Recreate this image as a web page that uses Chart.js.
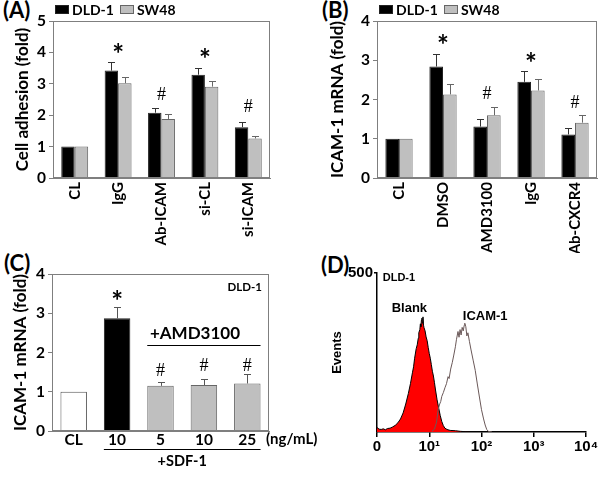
<!DOCTYPE html>
<html>
<head>
<meta charset="utf-8">
<script src="https://cdn.jsdelivr.net/npm/chart.js@4.4.1/dist/chart.umd.min.js"></script>
<style>
  body { margin: 0; background: #fff; width: 600px; height: 479px; overflow: hidden; position: relative; }
  canvas { position: absolute; left: 0; top: 0; }
  .tag { position: absolute; font: bold 22px/22px Lato, sans-serif; color: #000; }
</style>
</head>
<body>
<div class="tag" style="left:3px;top:-1px">(A)</div>
<div class="tag" style="left:322px;top:-1px">(B)</div>
<div class="tag" style="left:4px;top:252px">(C)</div>
<div class="tag" style="left:321px;top:254px">(D)</div>
<canvas id="cA" width="600" height="479"></canvas>
<canvas id="cB" width="600" height="479"></canvas>
<canvas id="cC" width="600" height="479"></canvas>
<canvas id="cD" width="600" height="479"></canvas>
<script>
// Four panels of a figure, each one Chart.js chart on its own stacked canvas.

const seriesNames = ['DLD-1', 'SW48'];

// (A) cell adhesion
const catsA = ['CL', 'IgG', 'Ab-ICAM', 'si-CL', 'si-ICAM'];
const dldA = [1, 3.42, 2.08, 3.29, 1.62];
const dldASd = [0, 0.28, 0.14, 0.21, 0.17];
const swA = [1, 3.02, 1.88, 2.91, 1.26];
const swASd = [0, 0.21, 0.17, 0.19, 0.09];
const marksA = ['', '*', '#', '*', '#'];
const marksAY = [null, 4.13, 2.67, 3.95, 2.29];

// (B) ICAM-1 mRNA
const catsB = ['CL', 'DMSO', 'AMD3100', 'IgG', 'Ab-CXCR4'];
const dldB = [1, 2.84, 1.31, 2.45, 1.11];
const dldBSd = [0, 0.32, 0.19, 0.28, 0.16];
const swB = [1, 2.13, 1.6, 2.23, 1.41];
const swBSd = [0, 0.26, 0.21, 0.29, 0.19];
const marksB = ['', '*', '#', '*', '#'];
const marksBY = [null, 3.53, 2.16, 3.07, 1.94];

// (C) SDF-1 dose, DLD-1 only
const catsC = ['CL', '10', '5', '10', '25'];
const valsC = [1, 2.87, 1.15, 1.17, 1.21];
const sdC = [0, 0.3, 0.09, 0.15, 0.23];
const marksC = ['', '*', '#', '#', '#'];
const marksCY = [null, 3.46, 1.55, 1.68, 1.68];

// (D) flow cytometry histograms, x in decades (0 = 10^0)
const decadeTicks = [0, 1, 2, 3, 4];
const decadeLabels = ['0', '10\u00b9', '10\u00b2', '10\u00b3', '10\u2074'];
const blankX = [0, 0.04, 0.08, 0.12, 0.16, 0.2, 0.25, 0.3, 0.35, 0.4, 0.45, 0.5, 0.55, 0.6, 0.64, 0.68, 0.7, 0.72, 0.75, 0.77, 0.79, 0.8, 0.82, 0.83, 0.84, 0.85, 0.86, 0.87, 0.88, 0.89, 0.9, 0.92, 0.94, 0.96, 0.98, 1.0, 1.02, 1.04, 1.06, 1.08, 1.1, 1.12, 1.15, 1.18, 1.21, 1.24, 1.27, 1.3, 1.34, 1.4, 1.5, 1.6, 1.7, 1.8];
const blankY = [14, 9, 8, 10, 7, 11, 12, 16, 21, 29, 41, 60, 88, 121, 152, 188, 205, 232, 262, 274, 295, 312, 322, 340, 331, 352, 358, 342, 362, 336, 328, 318, 299, 287, 266, 247, 232, 212, 191, 176, 155, 132, 101, 76, 52, 33, 20, 12, 8, 5, 4, 2, 1, 0];
const icamX = [1.05, 1.1, 1.14, 1.17, 1.2, 1.22, 1.24, 1.27, 1.3, 1.33, 1.36, 1.38, 1.41, 1.44, 1.47, 1.5, 1.52, 1.55, 1.57, 1.59, 1.61, 1.63, 1.65, 1.67, 1.68, 1.7, 1.72, 1.74, 1.77, 1.8, 1.84, 1.88, 1.92, 1.96, 2.0, 2.04, 2.07, 2.1, 2.13, 2.2];
const icamY = [2, 9, 31, 70, 88, 96, 112, 124, 139, 152, 174, 168, 198, 218, 242, 268, 290, 316, 298, 322, 305, 329, 318, 336, 342, 331, 302, 312, 284, 258, 226, 194, 151, 110, 70, 41, 22, 8, 2, 0];

const FONT = 'Lato, sans-serif';
const ARIAL = '"Liberation Sans", Arial, sans-serif';
const BLACK = '#000000';
const GREY = '#bfbfbf';
const EDGE = '#7f7f7f';

const frame = {
  id: 'frame',
  afterDraw(chart) {
    const { ctx, chartArea: a } = chart;
    ctx.save();
    ctx.strokeStyle = EDGE;
    ctx.lineWidth = 1;
    ctx.strokeRect(a.left + 0.5, a.top + 0.5, a.width - 1, a.height - 1);
    ctx.restore();
  }
};

const errorBars = {
  id: 'errorBars',
  afterDatasetsDraw(chart, args, opts) {
    const { ctx } = chart;
    const ys = chart.scales.y;
    ctx.save();
    ctx.lineWidth = 1;
    opts.sd.forEach((sds, d) => {
      const meta = chart.getDatasetMeta(d);
      ctx.strokeStyle = opts.colors[d];
      meta.data.forEach((bar, i) => {
        if (!sds[i]) return;
        const v = chart.data.datasets[d].data[i];
        const top = Math.round(ys.getPixelForValue(v + sds[i])) + 0.5;
        const x = Math.round(bar.x) + 0.5;
        ctx.beginPath();
        ctx.moveTo(x, bar.y);
        ctx.lineTo(x, top);
        ctx.moveTo(x - 3.5, top);
        ctx.lineTo(x + 3.5, top);
        ctx.stroke();
      });
    });
    ctx.restore();
  }
};

const marks = {
  id: 'marks',
  afterDatasetsDraw(chart, args, opts) {
    const { ctx } = chart;
    const xs = chart.scales.x, ys = chart.scales.y;
    ctx.save();
    ctx.fillStyle = '#000';
    ctx.textAlign = 'center';
    ctx.textBaseline = 'alphabetic';
    opts.text.forEach((t, i) => {
      if (!t) return;
      const star = t === '*';
      const size = star ? 28 : 18;
      ctx.font = star ? `bold ${size}px ${FONT}` : `${size}px "Liberation Serif", serif`;
      const yc = ys.getPixelForValue(opts.at[i]);
      ctx.fillText(t, xs.getPixelForValue(i), yc + (star ? 0.55 : 0.33) * size);
    });
    ctx.restore();
  }
};

const keyBoxes = {
  id: 'keyBoxes',
  afterDraw(chart, args, opts) {
    if (!opts.x) return;
    const { ctx } = chart;
    ctx.save();
    ctx.font = `bold 14px ${FONT}`;
    ctx.textBaseline = 'middle';
    chart.data.datasets.forEach((ds, i) => {
      const x = opts.x + i * opts.step;
      ctx.fillStyle = ds.backgroundColor;
      ctx.fillRect(x, opts.y, 14, 9);
      ctx.strokeStyle = ds.borderColor;
      ctx.strokeRect(x + 0.5, opts.y + 0.5, 13, 8);
      ctx.fillStyle = '#000';
      ctx.fillText(ds.label, x + 17, opts.y + 5);
    });
    ctx.restore();
  }
};

const tickFont = { family: FONT, size: 15.5, weight: 'bold' };
const titleFont = { family: FONT, size: 17, weight: 'bold' };

function barScales(max, title, yWidth, xHeight, rotate) {
  return {
    x: {
      grid: { display: false, drawTicks: false },
      border: { color: EDGE },
      ticks: {
        color: '#000', font: { family: FONT, size: rotate ? 15 : 15.5, weight: 'bold' }, autoSkip: false,
        minRotation: rotate ? 90 : 0, maxRotation: rotate ? 90 : 0, padding: rotate ? 4 : 0
      },
      afterFit: (s) => { s.height = xHeight; }
    },
    y: {
      min: 0, max,
      ticks: { stepSize: 1, color: '#000', font: tickFont, padding: 3 },
      grid: { drawOnChartArea: false, tickLength: 4, color: EDGE },
      border: { color: EDGE },
      title: { display: true, text: title, color: '#000', font: titleFont },
      afterFit: (s) => { s.width = yWidth; }
    }
  };
}

function pairChart(id, cats, dld, sw, dldSd, swSd, mk, mkY, max, title, pad, yWidth, keyX) {
  return new Chart(document.getElementById(id), {
    type: 'bar',
    data: {
      labels: cats,
      datasets: [
        { label: seriesNames[0], data: dld, backgroundColor: BLACK, borderColor: '#222', borderWidth: 1 },
        { label: seriesNames[1], data: sw, backgroundColor: GREY, borderColor: '#666', borderWidth: 1 }
      ]
    },
    options: {
      responsive: false, animation: false, devicePixelRatio: 1,
      categoryPercentage: 0.62, barPercentage: 1,
      layout: { padding: pad },
      plugins: {
        legend: { display: false }, tooltip: { enabled: false },
        errorBars: { sd: [dldSd, swSd], colors: ['#333', '#666'] },
        marks: { text: mk, at: mkY },
        keyBoxes: { x: keyX, y: 5, step: 65 }
      },
      scales: barScales(max, title, yWidth, 75, true)
    },
    plugins: [frame, errorBars, marks, keyBoxes]
  });
}

pairChart('cA', catsA, dldA, swA, dldASd, swASd, marksA, marksAY, 5, 'Cell adhesion (fold)',
  { left: 8, top: 21, right: 330, bottom: 226 }, 45, 55);
pairChart('cB', catsB, dldB, swB, dldBSd, swBSd, marksB, marksBY, 4, 'ICAM-1 mRNA (fold)',
  { left: 323, top: 21, right: 3, bottom: 226 }, 54, 379);

// (C) extra group labels drawn from the bar positions
const groupsC = {
  id: 'groupsC',
  afterDraw(chart) {
    const { ctx, chartArea: a } = chart;
    const bars = chart.getDatasetMeta(0).data;
    const ys = chart.scales.y;
    const l = (i) => bars[i].x - bars[i].width / 2;
    const r = (i) => bars[i].x + bars[i].width / 2;
    ctx.save();
    ctx.fillStyle = '#000';
    ctx.strokeStyle = '#000';
    ctx.lineWidth = 1;
    ctx.textBaseline = 'middle';
    ctx.textAlign = 'right';
    ctx.font = `bold 11.5px ${FONT}`;
    ctx.fillText('DLD-1', a.right - 7, a.top + 13);

    const yl = Math.round(ys.getPixelForValue(2.2)) + 0.5;
    ctx.beginPath(); ctx.moveTo(l(2), yl); ctx.lineTo(r(4), yl); ctx.stroke();
    ctx.textAlign = 'center';
    ctx.font = `bold 17px ${FONT}`;
    ctx.fillText('+AMD3100', 195, yl - 12);

    ctx.textAlign = 'left';
    ctx.font = `bold 15px ${FONT}`;
    ctx.fillText('(ng/mL)', a.right - 3, a.bottom + 8);

    const ys2 = a.bottom + 18.5;
    ctx.beginPath(); ctx.moveTo(l(1), ys2); ctx.lineTo(r(4), ys2); ctx.stroke();
    ctx.textAlign = 'center';
    ctx.font = `bold 14.5px ${FONT}`;
    ctx.fillText('+SDF-1', (l(1) + r(4)) / 2, ys2 + 12);
    ctx.restore();
  }
};

new Chart(document.getElementById('cC'), {
  type: 'bar',
  data: {
    labels: catsC,
    datasets: [{
      label: seriesNames[0], data: valsC,
      backgroundColor: ['#ffffff', BLACK, GREY, GREY, GREY],
      borderColor: ['#555', '#222', '#666', '#666', '#666'], borderWidth: 1
    }]
  },
  options: {
    responsive: false, animation: false, devicePixelRatio: 1,
    categoryPercentage: 1, barPercentage: 0.61,
    layout: { padding: { left: 6, top: 274, right: 331, bottom: 28 } },
    plugins: {
      legend: { display: false }, tooltip: { enabled: false },
      errorBars: { sd: [sdC], colors: ['#555'] },
      marks: { text: marksC, at: marksCY },
      keyBoxes: { x: 0 }
    },
    scales: barScales(4, 'ICAM-1 mRNA (fold)', 46, 20, false)
  },
  plugins: [frame, errorBars, marks, groupsC]
});

// (D) histogram overlay
const labelsD = {
  id: 'labelsD',
  afterDraw(chart) {
    const { ctx } = chart;
    const xs = chart.scales.x, ys = chart.scales.y;
    ctx.save();
    ctx.fillStyle = '#000';
    ctx.textBaseline = 'middle';
    ctx.textAlign = 'left';
    ctx.font = `bold 11px ${ARIAL}`;
    ctx.fillText('DLD-1', xs.getPixelForValue(0.11), ys.getPixelForValue(484));
    ctx.textAlign = 'center';
    ctx.font = `bold 13px ${ARIAL}`;
    ctx.fillText('Blank', xs.getPixelForValue(0.62), ys.getPixelForValue(390));
    ctx.fillText('ICAM-1', xs.getPixelForValue(2.07), ys.getPixelForValue(365));
    ctx.restore();
  }
};

const fontD = { family: ARIAL, size: 15, weight: 'bold' };

new Chart(document.getElementById('cD'), {
  type: 'line',
  data: {
    datasets: [
      {
        label: 'ICAM-1', data: icamX.map((x, i) => ({ x, y: icamY[i] })),
        borderColor: '#6a5858', borderWidth: 1, pointRadius: 0, fill: false, order: 1
      },
      {
        label: 'Blank', data: blankX.map((x, i) => ({ x, y: blankY[i] })),
        borderColor: '#000', backgroundColor: '#ff0000', borderWidth: 1, pointRadius: 0, fill: 'origin', order: 2
      }
    ]
  },
  options: {
    responsive: false, animation: false, devicePixelRatio: 1,
    layout: { padding: { left: 326, top: 273, right: 14, bottom: 17 } },
    plugins: { legend: { display: false }, tooltip: { enabled: false } },
    scales: {
      x: {
        type: 'linear', min: 0, max: 4,
        afterBuildTicks: (s) => { s.ticks = decadeTicks.map((v) => ({ value: v })); },
        ticks: { callback: (v) => decadeLabels[v], color: '#000', font: fontD, padding: 1, maxRotation: 0, autoSkip: false },
        grid: { drawOnChartArea: false, tickLength: 5, color: '#000', lineWidth: 1.5 },
        border: { color: '#000', width: 1.5 },
        afterFit: (s) => { s.height = 30; }
      },
      y: {
        min: 0, max: 500,
        afterBuildTicks: (s) => { s.ticks = [{ value: 500 }]; },
        ticks: { color: '#000', font: fontD, padding: 1 },
        grid: { drawOnChartArea: false, tickLength: 3, color: '#000', lineWidth: 1.5 },
        border: { color: '#000', width: 1.5 },
        title: { display: true, text: 'Events', color: '#000', font: { family: ARIAL, size: 13, weight: 'bold' } },
        afterFit: (s) => { s.width = 51; }
      }
    }
  },
  plugins: [labelsD]
});
</script>
</body>
</html>
